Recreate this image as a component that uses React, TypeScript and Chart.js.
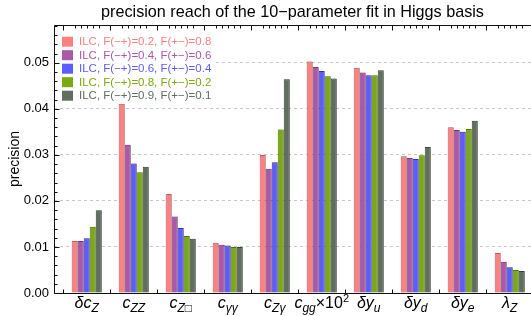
import React, { useEffect, useRef } from "react";
import { Chart, registerables } from "chart.js";
Chart.register(...registerables);

const categories = ["δcZ", "cZZ", "cZ□", "cγγ", "cZγ", "cgg×10²", "δyu", "δyd", "δye", "λZ"];
const labelMain = ["δc", "c", "c", "c", "c", "c", "δy", "δy", "δy", "λ"];
const labelSub = ["Z", "ZZ", "Z□", "γγ", "Zγ", "gg", "u", "d", "e", "Z"];
const labelSuffix = ["", "", "", "", "", "×10", "", "", "", ""];
const labelSup = ["", "", "", "", "", "2", "", "", "", ""];

const seriesNames = [
  "ILC, F(−+)=0.2, F(+−)=0.8",
  "ILC, F(−+)=0.4, F(+−)=0.6",
  "ILC, F(−+)=0.6, F(+−)=0.4",
  "ILC, F(−+)=0.8, F(+−)=0.2",
  "ILC, F(−+)=0.9, F(+−)=0.1",
];
const f02 = [0.0113, 0.0411, 0.0215, 0.0109, 0.0300, 0.0503, 0.0489, 0.0297, 0.0360, 0.0087];
const f04 = [0.0113, 0.0322, 0.0166, 0.0105, 0.0270, 0.0491, 0.0479, 0.0293, 0.0354, 0.0068];
const f06 = [0.0119, 0.0281, 0.0141, 0.0103, 0.0284, 0.0482, 0.0473, 0.0291, 0.0350, 0.0056];
const f08 = [0.0144, 0.0262, 0.0124, 0.0100, 0.0355, 0.0471, 0.0473, 0.0299, 0.0356, 0.0050];
const f09 = [0.0180, 0.0274, 0.0118, 0.0100, 0.0464, 0.0466, 0.0484, 0.0317, 0.0374, 0.0048];
const seriesValues = [f02, f04, f06, f08, f09];

const fills = ["rgb(255,128,128)", "rgb(172,86,172)", "rgb(92,92,255)", "rgb(122,170,18)", "rgb(95,110,95)"];
const borders = ["rgb(200,95,95)", "rgb(120,55,120)", "rgb(55,55,185)", "rgb(85,125,10)", "rgb(60,72,60)"];
const legendText = ["rgb(255,128,128)", "rgb(172,86,172)", "rgb(92,92,255)", "rgb(122,170,18)", "rgb(95,110,95)"];

const yTicks = [0, 0.01, 0.02, 0.03, 0.04, 0.05];
const yMax = 0.0582;

const FONT = "'Liberation Sans', Arial, sans-serif";

const shadowPlugin = {
  id: "barShadow",
  beforeDatasetsDraw(chart: any) {
    const ctx = chart.ctx;
    ctx.save();
    ctx.shadowColor = "rgba(0,0,0,0.22)";
    ctx.shadowOffsetX = 1;
    ctx.shadowOffsetY = 0;
    ctx.shadowBlur = 1.5;
  },
  afterDatasetsDraw(chart: any) {
    chart.ctx.restore();
  },
};

const decorPlugin = {
  id: "decor",
  afterDraw(chart: any) {
    const { ctx, chartArea } = chart;
    const { left, right, top, bottom } = chartArea;
    const x = chart.scales.x;
    const y = chart.scales.y;
    ctx.save();

    // legend
    ctx.fillStyle = "#fff";
    ctx.fillRect(left + 1, 33, 158, 71);
    ctx.font = `11.5px ${FONT}`;
    ctx.textBaseline = "middle";
    ctx.textAlign = "left";
    seriesNames.forEach((name, i) => {
      const cy = 41.7 + i * 13.5;
      ctx.fillStyle = fills[i];
      ctx.fillRect(62, cy - 5, 11, 10);
      ctx.fillStyle = legendText[i];
      ctx.fillText(name, 79, cy + 0.5);
    });

    // frame
    const L = Math.round(left) + 0.5;
    const T = Math.round(top) + 0.5;
    const B = Math.round(bottom) + 0.5;
    ctx.strokeStyle = "#111";
    ctx.lineWidth = 1;
    ctx.beginPath();
    ctx.moveTo(L, T);
    ctx.lineTo(right, T);
    ctx.moveTo(L, T);
    ctx.lineTo(L, B);
    ctx.lineTo(right, B);
    for (let k = 0; k <= 29; k++) {
      const v = k * 0.002;
      if (v > yMax) break;
      const py = Math.round(y.getPixelForValue(v)) + 0.5;
      const len = k % 5 === 0 ? 5 : 3;
      ctx.moveTo(L, py);
      ctx.lineTo(L + len, py);
    }
    for (let i = 0; i <= 10; i++) {
      const px = Math.round(x.getPixelForValue(i - 0.5)) + 0.5;
      if (px > right) continue;
      ctx.moveTo(px, T);
      ctx.lineTo(px, T + 5);
      ctx.moveTo(px, B);
      ctx.lineTo(px, B - 4);
    }
    chart.data.datasets.forEach((_: any, d: number) => {
      const meta = chart.getDatasetMeta(d);
      meta.data.forEach((bar: any) => {
        const px = Math.round(bar.x) + 0.5;
        ctx.moveTo(px, T);
        ctx.lineTo(px, T + 3);
      });
    });
    ctx.stroke();

    // category labels
    ctx.fillStyle = "#000";
    ctx.textBaseline = "alphabetic";
    ctx.textAlign = "left";
    const base = bottom + 14.5;
    categories.forEach((_, i) => {
      const cx = x.getPixelForValue(i);
      const fMain = `italic 16px ${FONT}`;
      const fSub = `italic 12px ${FONT}`;
      const fSuf = `16px ${FONT}`;
      const fSup = `11px ${FONT}`;
      ctx.font = fMain;
      const wMain = ctx.measureText(labelMain[i]).width;
      ctx.font = fSub;
      const wSub = ctx.measureText(labelSub[i]).width;
      ctx.font = fSuf;
      const wSuf = ctx.measureText(labelSuffix[i]).width;
      ctx.font = fSup;
      const wSup = ctx.measureText(labelSup[i]).width;
      let px = cx - (wMain + wSub + wSuf + wSup) / 2;
      ctx.font = fMain;
      ctx.fillText(labelMain[i], px, base);
      px += wMain;
      ctx.font = fSub;
      ctx.fillText(labelSub[i], px, base + 4);
      px += wSub;
      if (labelSuffix[i]) {
        ctx.font = fSuf;
        ctx.fillText(labelSuffix[i], px, base);
        px += wSuf;
        ctx.font = fSup;
        ctx.fillText(labelSup[i], px, base - 6);
      }
    });
    ctx.restore();
  },
};

export default function App() {
  const ref = useRef<HTMLCanvasElement | null>(null);
  useEffect(() => {
    document.body.style.margin = "0";
    const canvas = ref.current;
    if (!canvas) return;
    const chart = new Chart(canvas, {
      type: "bar",
      data: {
        datasets: seriesValues.map((vals, d) => ({
          label: seriesNames[d],
          data: vals.map((v, i) => ({ x: i, y: v })),
          backgroundColor: fills[d],
          borderColor: borders[d],
          borderWidth: 1,
          categoryPercentage: 0.64,
          barPercentage: 1.0,
        })),
      },
      options: {
        animation: false,
        responsive: false,
        devicePixelRatio: 1,
        layout: { padding: 0 },
        plugins: {
          legend: { display: false },
          tooltip: { enabled: false },
          title: {
            display: true,
            text: "precision reach of the 10−parameter fit in Higgs basis",
            fullSize: false,
            color: "#000",
            font: { family: FONT, size: 16.2, weight: "normal" },
            padding: { top: 2.8, bottom: 2.8 },
          },
        },
        scales: {
          x: {
            type: "linear",
            offset: false,
            min: -0.696,
            max: 9.453,
            grid: { display: false },
            border: { display: false },
            ticks: { display: false },
            afterFit: (s: any) => {
              s.height = 23;
            },
          },
          y: {
            type: "linear",
            min: 0,
            max: yMax,
            afterBuildTicks: (s: any) => {
              s.ticks = yTicks.map((v) => ({ value: v }));
            },
            afterFit: (s: any) => {
              s.width = 54;
            },
            ticks: {
              color: "#000",
              font: { family: FONT, size: 13 },
              padding: 5,
              callback: (v: any) => Number(v).toFixed(2),
            },
            grid: { color: "#c8c8c8", drawTicks: false },
            border: { display: false, dash: [3, 3] },
            title: {
              display: true,
              text: "precision",
              color: "#000",
              font: { family: FONT, size: 14 },
              padding: { top: 7, bottom: 0 },
            },
          },
        },
      },
      plugins: [shadowPlugin, decorPlugin],
    } as any);
    return () => chart.destroy();
  }, []);
  return (
    <div style={{ width: 531, height: 316 }}>
      <canvas ref={ref} width={531} height={316} />
    </div>
  );
}
